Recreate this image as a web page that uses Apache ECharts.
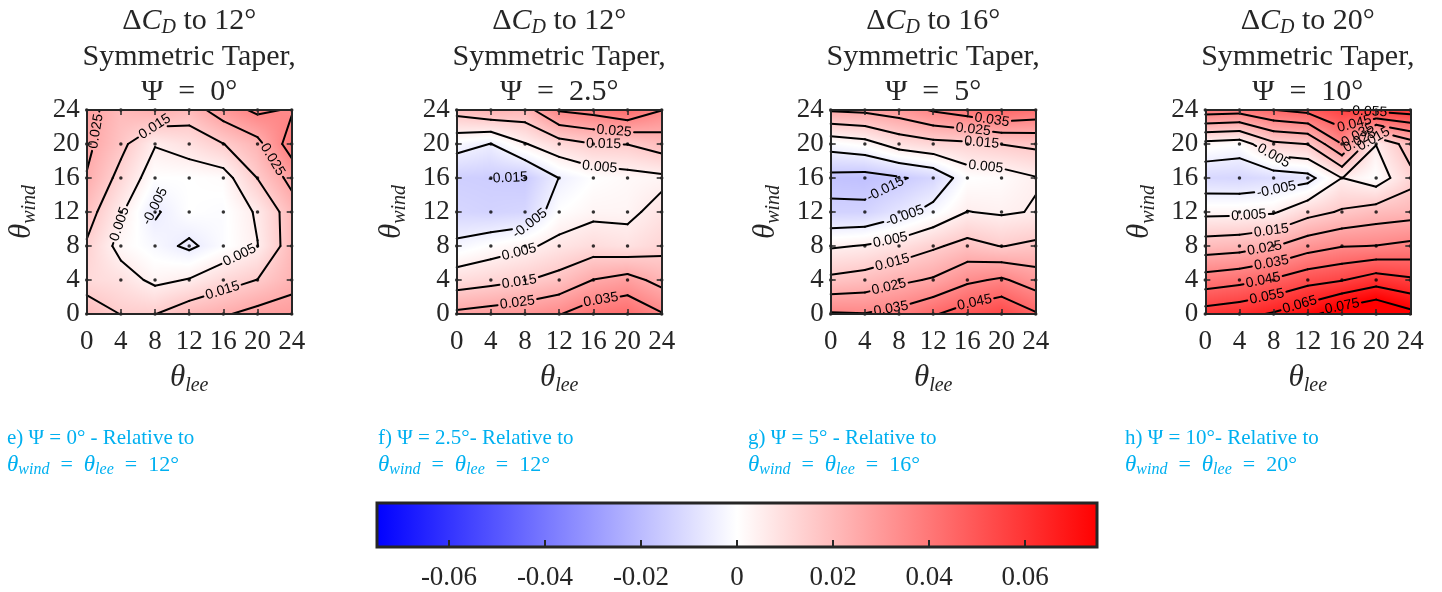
<!DOCTYPE html>
<html><head><meta charset="utf-8">
<script src="https://cdn.jsdelivr.net/npm/echarts@6/dist/echarts.min.js"></script>
<style>html,body{margin:0;padding:0;background:#fff}#c{width:1442px;height:592px}</style>
</head><body><div id="c"></div><script>
// ---------------- data ----------------
const thetaLee = [0, 4, 8, 12, 16, 20, 24];          // x grid (columns)
const thetaWind = [24, 20, 16, 12, 8, 4, 0];         // y grid (row order of the tables below)
const axisTicks = [0, 4, 8, 12, 16, 20, 24];
const tickLabels = ['0', '4', '8', '12', '16', '20', '24'];

// Delta C_D tables, one row per theta_wind (24 ... 0), one column per theta_lee (0 ... 24)
const dCdPsi0 = [
  [0.028, 0.020, 0.024, 0.020, 0.030, 0.037, 0.034],
  [0.027, 0.0175, 0.0055, 0.009, 0.0148, 0.022, 0.040],
  [0.0245, 0.012, 0.000, 0.000, 0.001, 0.0152, 0.028],
  [0.019, 0.006, -0.006, 0.000, -0.001, 0.006, 0.020],
  [0.014, 0.002, -0.002, -0.0065, -0.001, 0.0048, 0.020],
  [0.011, 0.009, 0.003, 0.0055, 0.011, 0.0152, 0.022],
  [0.020, 0.0148, 0.0148, 0.021, 0.024, 0.028, 0.029]
];
const dCdPsi2p5 = [
  [0.0185, 0.023, 0.021, 0.036, 0.0385, 0.0435, 0.0352],
  [-0.0015, -0.0052, 0.0045, 0.011, 0.0148, 0.0152, 0.0196],
  [-0.014, -0.0145, -0.0155, -0.0048, 0.000, 0.0017, 0.003],
  [-0.012, -0.013, -0.012, 0.000, 0.003, 0.003, 0.008],
  [-0.003, 0.0005, 0.0035, 0.0075, 0.0102, 0.0085, 0.0121],
  [0.0098, 0.012, 0.0145, 0.018, 0.0252, 0.0285, 0.0219],
  [0.027, 0.029, 0.031, 0.0345, 0.041, 0.043, 0.0357]
];
const dCdPsi5 = [
  [0.026, 0.027, 0.030, 0.036, 0.040, 0.045, 0.042],
  [-0.0013, 0.0015, 0.009, 0.012, 0.013, 0.0152, 0.017],
  [-0.0177, -0.0185, -0.016, -0.012, 0.000, 0.001, 0.0045],
  [-0.0132, -0.013, -0.008, -0.002, 0.0052, 0.004, 0.0055],
  [0.004, 0.0055, 0.0088, 0.0136, 0.018, 0.0147, 0.017],
  [0.017, 0.019, 0.023, 0.026, 0.033, 0.0364, 0.030],
  [0.036, 0.0354, 0.038, 0.044, 0.050, 0.054, 0.046]
];
const dCdPsi10 = [
  [0.040, 0.039, 0.0448, 0.048, 0.0552, 0.058, 0.060],
  [0.002, 0.000, 0.013, 0.0152, 0.035, 0.0052, 0.020],
  [-0.0115, -0.012, -0.010, -0.008, 0.0051, 0.000, 0.012],
  [0.0028, 0.003, 0.004, 0.0117, 0.016, 0.0195, 0.021],
  [0.0197, 0.021, 0.0245, 0.0308, 0.0345, 0.0352, 0.0374],
  [0.0395, 0.042, 0.046, 0.0515, 0.0545, 0.060, 0.0565],
  [0.0595, 0.062, 0.066, 0.072, 0.081, 0.086, 0.078]
];

const refAngles = ['12', '12', '16', '20'];
const psiValues = ['0', '2.5', '5', '10'];
const captionHeads = ['e) \u03A8 = 0\u00B0 - Relative to', 'f) \u03A8 = 2.5\u00B0- Relative to',
                      'g) \u03A8 = 5\u00B0 - Relative to', 'h) \u03A8 = 10\u00B0- Relative to'];
const contourLevels = [-0.015, -0.005, 0.005, 0.015, 0.025, 0.035, 0.045, 0.055, 0.065, 0.075];
const colorbarTicks = [-0.06, -0.04, -0.02, 0, 0.02, 0.04, 0.06];
const colorLimit = 0.075;

// inline contour labels: [level, approx theta_lee, approx theta_wind]
const labelsPsi0 = [[0.025, 1.1, 21.5], [0.015, 8.0, 22.0], [0.025, 22.0, 18.3], [-0.005, 8.1, 13.3],
  [0.005, 3.8, 10.6], [0.005, 17.9, 6.9], [0.015, 15.8, 3.1]];
const labelsPsi2p5 = [[0.025, 18.4, 21.2], [0.015, 17.2, 19.6], [0.005, 16.7, 16.9], [-0.015, 5.1, 14.9],
  [-0.005, 8.6, 10.6], [0.005, 7.3, 7.3], [0.015, 7.4, 3.3], [0.025, 7.1, 1.4], [0.035, 16.9, 1.6]];
const labelsPsi5 = [[0.035, 18.8, 22.4], [0.025, 16.6, 21.0], [0.015, 17.6, 19.2], [0.005, 18.2, 17.8],
  [-0.015, 6.6, 14.3], [-0.005, 8.8, 11.2], [0.005, 7.0, 8.6], [0.015, 7.2, 6.1], [0.025, 6.8, 3.3],
  [0.035, 7.0, 1.0], [0.045, 16.8, 1.6]];
const labelsPsi10 = [[0.055, 19.2, 22.9], [0.045, 17.6, 21.8], [0.035, 18.0, 20.8], [0.025, 18.4, 19.8],
  [0.015, 19.8, 20.4], [0.005, 7.9, 18.2], [-0.005, 8.4, 14.3], [0.005, 5.1, 11.6], [0.015, 7.7, 10.0],
  [0.025, 6.9, 8.0], [0.035, 7.7, 6.3], [0.045, 6.7, 4.3], [0.055, 7.1, 2.6], [0.065, 10.8, 2.0],
  [0.075, 15.9, 1.6]];

// ---------------- layout / style ----------------
const panelData = [dCdPsi0, dCdPsi2p5, dCdPsi5, dCdPsi10];
const panelLabels = [labelsPsi0, labelsPsi2p5, labelsPsi5, labelsPsi10];
const plotLeft = [86.7, 456.7, 830.7, 1205.3];
const plotWidth = 205;
const plotTop = 110, plotHeight = 204;
const SERIF = '"Liberation Serif", "Times New Roman", serif';
const SANS = '"Liberation Sans", Arial, sans-serif';
const DARK = '#262626';
const CAPBLUE = '#00b0f0';
const LABEL_FONT_SIZE = 14;
const EQ = '\u2002=\u2002';

function colorOf(v) {
  let t = Math.max(-1, Math.min(1, v / colorLimit));
  if (t < 0) { const c = Math.round(255 * (1 + t)); return [c, c, 255]; }
  const c = Math.round(255 * (1 - t)); return [255, c, c];
}

function cellSegments(x0, y0, x1, y1, v00, v10, v01, v11, L) {
  const h00 = v00 > L, h10 = v10 > L, h11 = v11 > L, h01 = v01 > L;
  const itp = (xa, ya, va, xb, yb, vb) => { const t = (L - va) / (vb - va); return [xa + (xb - xa) * t, ya + (yb - ya) * t]; };
  const e = [null, null, null, null];
  if (h00 !== h10) e[0] = itp(x0, y0, v00, x1, y0, v10);
  if (h10 !== h11) e[1] = itp(x1, y0, v10, x1, y1, v11);
  if (h01 !== h11) e[2] = itp(x0, y1, v01, x1, y1, v11);
  if (h00 !== h01) e[3] = itp(x0, y0, v00, x0, y1, v01);
  const idx = [0, 1, 2, 3].filter(k => e[k]);
  if (idx.length === 2) return [[e[idx[0]], e[idx[1]]]];
  if (idx.length === 4) {
    const c = (v00 + v10 + v01 + v11) / 4 > L;
    if (h00 === c) return [[e[0], e[1]], [e[2], e[3]]];
    return [[e[3], e[0]], [e[1], e[2]]];
  }
  return [];
}

function buildCells(vals) {
  const cells = [];
  for (let r = 0; r < thetaWind.length - 1; r++) {
    for (let c = 0; c < thetaLee.length - 1; c++) {
      cells.push([thetaLee[c], thetaWind[r + 1], thetaLee[c + 1], thetaWind[r],
        vals[r + 1][c], vals[r + 1][c + 1], vals[r][c], vals[r][c + 1]]);
    }
  }
  return cells;
}

function placeLabels(cells, specs) {
  return specs.map(([L, x, y]) => {
    let best = null, bd = Infinity;
    cells.forEach(cl => {
      cellSegments(...cl, L).forEach(([a, b]) => {
        const dx = b[0] - a[0], dy = b[1] - a[1];
        const len2 = dx * dx + dy * dy;
        let t = len2 ? ((x - a[0]) * dx + (y - a[1]) * dy) / len2 : 0;
        t = Math.max(0, Math.min(1, t));
        const px = a[0] + t * dx, py = a[1] + t * dy;
        const d = (px - x) ** 2 + (py - y) ** 2;
        if (d < bd) { bd = d; best = [px, py, a[0], a[1], b[0], b[1], L]; }
      });
    });
    return best;
  }).filter(Boolean);
}

const measureCtx = document.createElement('canvas').getContext('2d');
measureCtx.font = LABEL_FONT_SIZE + 'px ' + SANS;
function labelText(L) { return L.toFixed(3); }

function labelGeom(api, lab) {
  const c = api.coord([lab[0], lab[1]]);
  const pa = api.coord([lab[2], lab[3]]), pb = api.coord([lab[4], lab[5]]);
  let ang = Math.atan2(-(pb[1] - pa[1]), pb[0] - pa[0]);
  if (ang > Math.PI / 2) ang -= Math.PI;
  if (ang <= -Math.PI / 2) ang += Math.PI;
  const w = measureCtx.measureText(labelText(lab[6])).width;
  return { x: c[0], y: c[1], ang: ang, hw: w / 2 + 2.5, hh: 6.5, text: labelText(lab[6]) };
}

function insideInterval(p, q, g) {
  const ux = Math.cos(g.ang), uy = -Math.sin(g.ang);
  const nx = -uy, ny = ux;
  const ax = (p[0] - g.x) * ux + (p[1] - g.y) * uy, ay = (p[0] - g.x) * nx + (p[1] - g.y) * ny;
  const bx = (q[0] - g.x) * ux + (q[1] - g.y) * uy, by = (q[0] - g.x) * nx + (q[1] - g.y) * ny;
  let t0 = 0, t1 = 1; const dx = bx - ax, dy = by - ay;
  const clip = (pp, qq) => {
    if (pp === 0) return qq >= 0;
    const r = qq / pp;
    if (pp < 0) { if (r > t1) return false; if (r > t0) t0 = r; }
    else { if (r < t0) return false; if (r < t1) t1 = r; }
    return true;
  };
  if (clip(-dx, ax + g.hw) && clip(dx, g.hw - ax) && clip(-dy, ay + g.hh) && clip(dy, g.hh - ay) && t1 > t0) return [t0, t1];
  return null;
}

function fillRender(params, api) {
  const x0 = api.value(0), y0 = api.value(1), x1 = api.value(2), y1 = api.value(3);
  const v00 = api.value(4), v10 = api.value(5), v01 = api.value(6), v11 = api.value(7);
  const tl = api.coord([x0, y1]), br = api.coord([x1, y0]);
  const w = br[0] - tl[0], h = br[1] - tl[1];
  const W = Math.ceil(w) + 1, H = Math.ceil(h) + 1;
  const cv = document.createElement('canvas'); cv.width = W; cv.height = H;
  const ctx = cv.getContext('2d');
  const img = ctx.createImageData(W, H);
  for (let py = 0; py < H; py++) {
    const fy = Math.min(1, (py + 0.5) / h);
    for (let px = 0; px < W; px++) {
      const fx = Math.min(1, (px + 0.5) / w);
      const top = (1 - fx) * v01 + fx * v11, bot = (1 - fx) * v00 + fx * v10;
      const col = colorOf((1 - fy) * top + fy * bot);
      const k = (py * W + px) * 4;
      img.data[k] = col[0]; img.data[k + 1] = col[1]; img.data[k + 2] = col[2]; img.data[k + 3] = 255;
    }
  }
  ctx.putImageData(img, 0, 0);
  return { type: 'image', style: { image: cv, x: Math.floor(tl[0]), y: Math.floor(tl[1]), width: W, height: H } };
}

function makeContourRender(labels) {
  return function (params, api) {
    const item = [0, 1, 2, 3, 4, 5, 6, 7].map(k => api.value(k));
    const geoms = labels.map(l => labelGeom(api, l));
    const children = [];
    contourLevels.forEach(L => {
      cellSegments(...item, L).forEach(([a, b]) => {
        const p = api.coord(a), q = api.coord(b);
        let pieces = [[0, 1]];
        geoms.forEach(g => {
          const iv = insideInterval(p, q, g);
          if (!iv) return;
          const np = [];
          pieces.forEach(([s, e]) => {
            if (iv[1] <= s || iv[0] >= e) { np.push([s, e]); return; }
            if (iv[0] > s) np.push([s, iv[0]]);
            if (iv[1] < e) np.push([iv[1], e]);
          });
          pieces = np;
        });
        pieces.forEach(([s, e]) => {
          if (e - s < 1e-4) return;
          children.push({ type: 'line', shape: { x1: p[0] + (q[0] - p[0]) * s, y1: p[1] + (q[1] - p[1]) * s,
            x2: p[0] + (q[0] - p[0]) * e, y2: p[1] + (q[1] - p[1]) * e },
            style: { stroke: '#000', lineWidth: 2, lineCap: 'round' } });
        });
      });
    });
    return { type: 'group', children: children };
  };
}

function labelRender(params, api) {
  const lab = [0, 1, 2, 3, 4, 5, 6].map(k => api.value(k));
  const g = labelGeom(api, lab);
  return { type: 'text', x: g.x, y: g.y, rotation: g.ang,
    style: { text: g.text, fill: '#000', fontSize: LABEL_FONT_SIZE, fontFamily: SANS, align: 'center', verticalAlign: 'middle' } };
}

const nameRich = {
  t: { fontFamily: SERIF, fontStyle: 'italic', fontSize: 31, color: DARK, lineHeight: 34 },
  s: { fontFamily: SERIF, fontStyle: 'italic', fontSize: 20, color: DARK, lineHeight: 20, padding: [16, 0, 0, 0] }
};

const grids = [], xAxes = [], yAxes = [], series = [], graphics = [];
panelData.forEach((vals, p) => {
  grids.push({ left: plotLeft[p], top: plotTop, width: plotWidth, height: plotHeight });
  const cells = buildCells(vals);
  const labs = placeLabels(cells, panelLabels[p]);
  ['bottom', 'top'].forEach(pos => {
    xAxes.push({ gridIndex: p, type: 'value', position: pos, min: 0, max: 24, interval: 4, z: 10,
      axisLine: { show: true, onZero: false, lineStyle: { color: DARK, width: 2 } },
      axisTick: { show: true, inside: true, length: 5, lineStyle: { color: DARK, width: 1.5 } },
      axisLabel: { show: pos === 'bottom', showMinLabel: true, showMaxLabel: true, margin: 14,
        fontFamily: SERIF, fontSize: 27, color: DARK, formatter: v => tickLabels[axisTicks.indexOf(v)] },
      splitLine: { show: false },
      name: pos === 'bottom' ? '{t|\u03B8}{s|lee}' : '', nameLocation: 'middle', nameGap: 47,
      nameTextStyle: { rich: nameRich } });
  });
  ['left', 'right'].forEach(pos => {
    yAxes.push({ gridIndex: p, type: 'value', position: pos, min: 0, max: 24, interval: 4, z: 10,
      axisLine: { show: true, onZero: false, lineStyle: { color: DARK, width: 2 } },
      axisTick: { show: true, inside: true, length: 5, lineStyle: { color: DARK, width: 1.5 } },
      axisLabel: { show: pos === 'left', showMinLabel: true, showMaxLabel: true, margin: 7,
        fontFamily: SERIF, fontSize: 27, color: DARK, formatter: v => tickLabels[axisTicks.indexOf(v)] },
      splitLine: { show: false },
      name: pos === 'left' ? '{t|\u03B8}{s|wind}' : '', nameLocation: 'middle', nameGap: 48, nameRotate: 90,
      nameTextStyle: { rich: nameRich } });
  });
  const xi = 2 * p, yi = 2 * p;
  series.push({ type: 'custom', xAxisIndex: xi, yAxisIndex: yi, z: 1, silent: true, clip: false,
    renderItem: fillRender, data: cells });
  series.push({ type: 'custom', xAxisIndex: xi, yAxisIndex: yi, z: 2, silent: true, clip: false,
    renderItem: makeContourRender(labs), data: cells });
  series.push({ type: 'custom', xAxisIndex: xi, yAxisIndex: yi, z: 3, silent: true, clip: false,
    renderItem: labelRender, data: labs });
  const pts = [];
  thetaWind.forEach(y => thetaLee.forEach(x => pts.push([x, y])));
  series.push({ type: 'scatter', xAxisIndex: xi, yAxisIndex: yi, z: 4, silent: true, symbolSize: 3.5,
    itemStyle: { color: '#000' }, data: pts });

  const cx = plotLeft[p] + plotWidth / 2;
  const TS = 30;
  const tStyle = { fontFamily: SERIF, fontSize: TS, fill: DARK };
  graphics.push({ type: 'text', x: cx, y: 21, style: { text: '{n|\u0394}{i|C}{d|D}{n| to ' + refAngles[p] + '\u00B0}',
    align: 'center', verticalAlign: 'middle',
    rich: { n: tStyle, i: Object.assign({}, tStyle, { fontStyle: 'italic' }),
            d: { fontFamily: SERIF, fontSize: 20, fontStyle: 'italic', fill: DARK, padding: [13, 0, 0, 0] } } } });
  graphics.push({ type: 'text', x: cx, y: 57, style: { text: 'Symmetric Taper,', align: 'center', verticalAlign: 'middle',
    fontFamily: SERIF, fontSize: TS, fill: DARK } });
  graphics.push({ type: 'text', x: cx, y: 92, style: { text: '\u03A8' + EQ + psiValues[p] + '\u00B0', align: 'center', verticalAlign: 'middle',
    fontFamily: SERIF, fontSize: TS, fill: DARK } });
});

const capX = [7, 378, 748, 1125];
captionHeads.forEach((t, p) => {
  graphics.push({ type: 'text', x: capX[p], y: 438, style: { text: t, fontFamily: SERIF, fontSize: 21, fill: CAPBLUE,
    align: 'left', verticalAlign: 'middle' } });
  const ci = { fontFamily: SERIF, fontSize: 23, fontStyle: 'italic', fill: CAPBLUE };
  const cs = { fontFamily: SERIF, fontSize: 16, fontStyle: 'italic', fill: CAPBLUE, padding: [10, 0, 0, 0] };
  const cn = { fontFamily: SERIF, fontSize: 22, fill: CAPBLUE };
  graphics.push({ type: 'text', x: capX[p], y: 465, style: {
    text: '{i|\u03B8}{s|wind}{n|' + EQ + '}{i|\u03B8}{s|lee}{n|' + EQ + refAngles[p] + '\u00B0}',
    align: 'left', verticalAlign: 'middle', rich: { i: ci, s: cs, n: cn } } });
});

// colorbar
grids.push({ left: 377, top: 503, width: 720, height: 44 });
xAxes.push({ gridIndex: 4, type: 'value', min: -colorLimit, max: colorLimit, z: 10,
  axisLine: { show: false },
  axisTick: { show: true, inside: true, length: 7, customValues: colorbarTicks, lineStyle: { color: DARK, width: 2 } },
  axisLabel: { show: true, customValues: colorbarTicks, margin: 17, fontFamily: SERIF, fontSize: 27, color: DARK,
    formatter: v => (Math.abs(v) < 1e-9 ? '0' : v.toFixed(2)) },
  splitLine: { show: false } });
yAxes.push({ gridIndex: 4, type: 'value', min: 0, max: 1, show: false });
series.push({ type: 'custom', xAxisIndex: 8, yAxisIndex: 8, z: 1, silent: true, clip: false,
  data: [[-colorLimit, 0, colorLimit, 1]],
  renderItem: function (params, api) {
    const a = api.coord([api.value(0), api.value(3)]), b = api.coord([api.value(2), api.value(1)]);
    const lo = colorOf(-colorLimit), mid = colorOf(0), hi = colorOf(colorLimit);
    return { type: 'rect', shape: { x: a[0], y: a[1], width: b[0] - a[0], height: b[1] - a[1] },
      style: { fill: new echarts.graphic.LinearGradient(0, 0, 1, 0, [
        { offset: 0, color: 'rgb(' + lo.join(',') + ')' },
        { offset: 0.5, color: 'rgb(' + mid.join(',') + ')' },
        { offset: 1, color: 'rgb(' + hi.join(',') + ')' }]), stroke: DARK, lineWidth: 3 } };
  } });

const chart = echarts.init(document.getElementById('c'), null, { renderer: 'canvas' });
chart.setOption({ animation: false, backgroundColor: '#fff', grid: grids, xAxis: xAxes, yAxis: yAxes,
  series: series, graphic: graphics });
</script></body></html>
